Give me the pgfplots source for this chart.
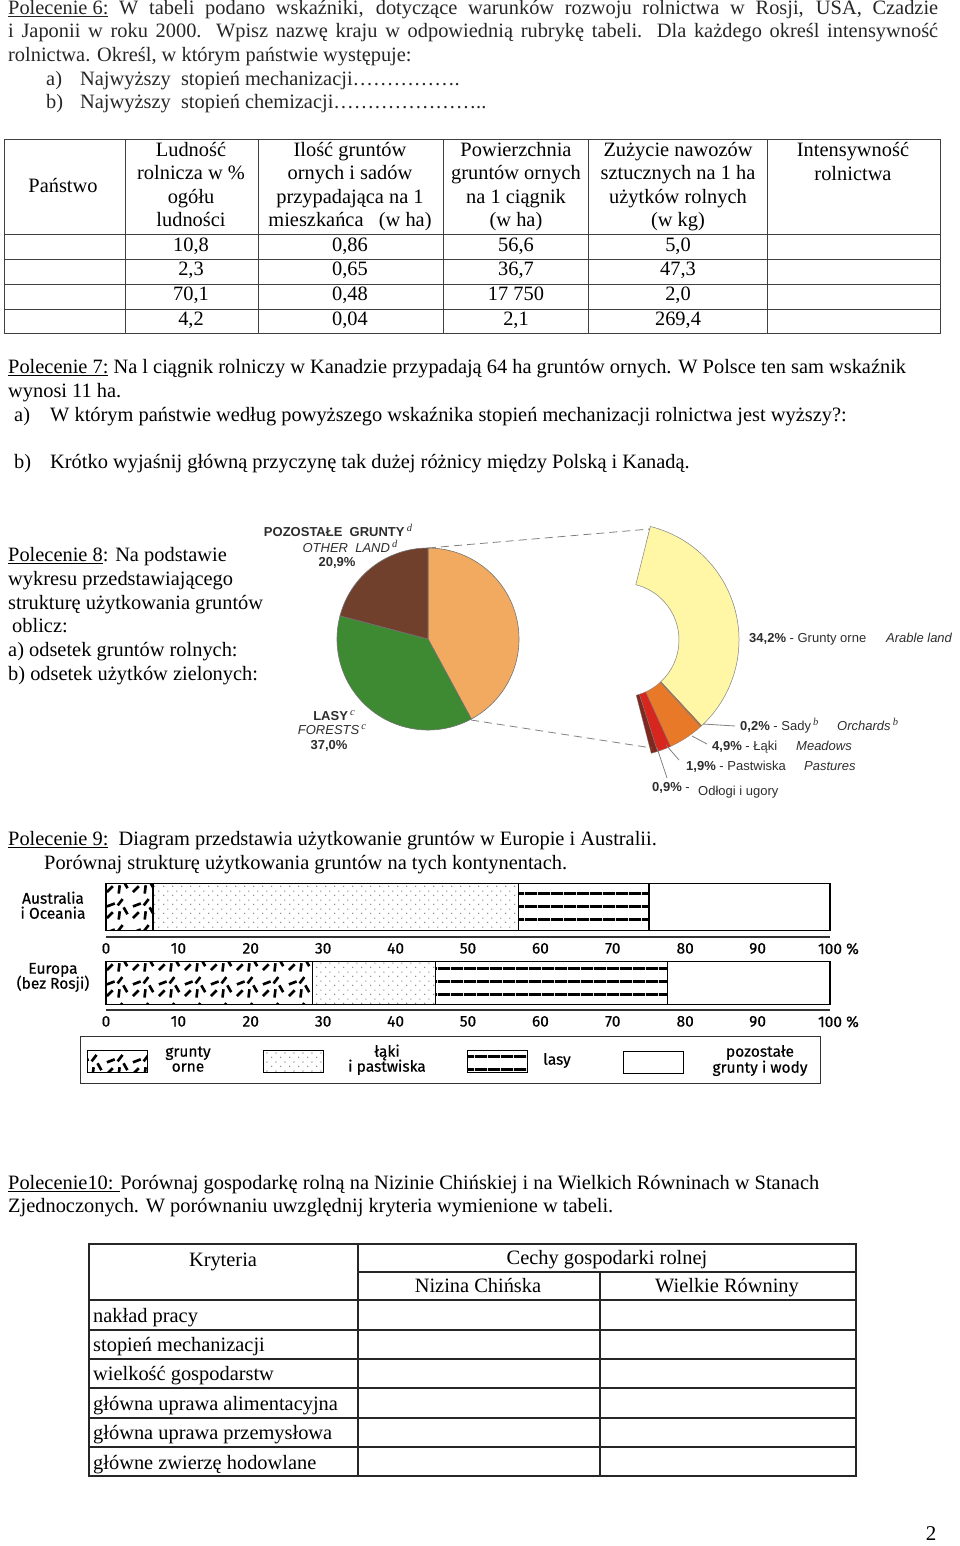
\documentclass[border=0pt]{standalone}
\usepackage{fontspec}
\setmainfont{Liberation Serif}
\newfontfamily\arial{Liberation Sans}
\newfontfamily\fira{Fira Sans}[FakeBold=0.4]
\usepackage{pgfplots}
\pgfplotsset{compat=1.18}
\usetikzlibrary{patterns}

% random short dashes (grunty orne)
\pgfdeclarepatternformonly{dashes}{\pgfqpoint{0pt}{0pt}}{\pgfqpoint{26pt}{26pt}}{\pgfqpoint{26pt}{26pt}}{%
  \pgfsetlinewidth{2.7pt}
  \pgfpathmoveto{\pgfqpoint{3pt}{4pt}}\pgfpathlineto{\pgfqpoint{9pt}{10pt}}
  \pgfpathmoveto{\pgfqpoint{15pt}{2.5pt}}\pgfpathlineto{\pgfqpoint{16pt}{11pt}}
  \pgfpathmoveto{\pgfqpoint{20pt}{15pt}}\pgfpathlineto{\pgfqpoint{24pt}{8pt}}
  \pgfpathmoveto{\pgfqpoint{3pt}{16pt}}\pgfpathlineto{\pgfqpoint{11pt}{19pt}}
  \pgfpathmoveto{\pgfqpoint{14pt}{17pt}}\pgfpathlineto{\pgfqpoint{19pt}{23.5pt}}
  \pgfusepath{stroke}}
% sparse dots (laki i pastwiska)
\pgfdeclarepatternformonly{sdots}{\pgfqpoint{0pt}{0pt}}{\pgfqpoint{9pt}{9pt}}{\pgfqpoint{9pt}{9pt}}{%
  \pgfpathcircle{\pgfqpoint{2pt}{3pt}}{0.7pt}
  \pgfpathcircle{\pgfqpoint{6.5pt}{7.5pt}}{0.7pt}
  \pgfusepath{fill}}
% thick horizontal lines (lasy)
\pgfdeclarepatternformonly{hlines}{\pgfqpoint{0pt}{0pt}}{\pgfqpoint{12.5pt}{12.5pt}}{\pgfqpoint{12.5pt}{12.5pt}}{%
  \pgfpathrectangle{\pgfqpoint{0pt}{0.1pt}}{\pgfqpoint{12.5pt}{2.8pt}}
  \pgfusepath{fill}}

\definecolor{pOrange}{RGB}{242,170,96}
\definecolor{pGreen}{RGB}{62,138,50}
\definecolor{pBrown}{RGB}{112,64,45}
\definecolor{rYellow}{RGB}{255,246,166}
\definecolor{rOrch}{RGB}{200,100,30}
\definecolor{rMead}{RGB}{232,121,40}
\definecolor{rPast}{RGB}{215,38,30}
\definecolor{rFall}{RGB}{128,40,30}
\definecolor{lbl}{RGB}{45,45,45}

\newcommand\T[3]{\node[anchor=mid west,inner sep=0] at (#1,#2) {#3};}
\newcommand\C[3]{\node[anchor=mid,inner sep=0] at (#1,#2) {#3};}
\newcommand\supi[1]{\raisebox{0.7ex}{\rmfamily\itshape\fontsize{10.5}{10}\selectfont #1}}

\begin{document}
\begin{tikzpicture}[x=1pt,y=-1pt]
\path[use as bounding box] (0,0) rectangle (960,1546);
\fontsize{20.4}{24}\selectfont

% ---- Polecenie 6
\begin{scope}[black!85]
\T{8}{10}{\makebox[930pt][s]{\underline{Polecenie 6:} W tabeli podano wskaźniki, dotyczące warunków rozwoju rolnictwa w Rosji, USA, Czadzie}}
\T{8}{33}{\makebox[930pt][s]{i Japonii w roku 2000. Wpisz nazwę kraju w odpowiednią rubrykę tabeli. Dla każdego określ intensywność}}
\T{8}{57}{rolnictwa. Określ, w którym państwie występuje:}
\T{46}{81}{a)}\T{80}{81}{Najwyższy\ \ stopień mechanizacji…………….}
\T{46}{104}{b)}\T{80}{104}{Najwyższy\ \ stopień chemizacji…………………..}
\end{scope}

% ---- table 1
\begin{scope}[line width=1pt, black!75]
\draw (4,140) rectangle (940,333);
\foreach \y in {235,259,284,309} \draw (4,\y) -- (940,\y);
\foreach \x in {125,258,443,588,767} \draw (\x,140) -- (\x,333);
\end{scope}
\C{63}{188}{Państwo}
\C{191}{152}{Ludność}\C{191}{175}{rolnicza w \%}\C{191}{199}{ogółu}\C{191}{222}{ludności}
\C{350}{152}{Ilość gruntów}\C{350}{175}{ornych i sadów}\C{350}{199}{przypadająca na 1}\C{350}{222}{mieszkańca\ \ \ (w ha)}
\C{516}{152}{Powierzchnia}\C{516}{175}{gruntów ornych}\C{516}{199}{na 1 ciągnik}\C{516}{222}{(w ha)}
\C{678}{152}{Zużycie nawozów}\C{678}{175}{sztucznych na 1 ha}\C{678}{199}{użytków rolnych}\C{678}{222}{(w kg)}
\C{853}{152}{Intensywność}\C{853}{176}{rolnictwa}
\C{191}{247}{10,8}\C{350}{247}{0,86}\C{516}{247}{56,6}\C{678}{247}{5,0}
\C{191}{271}{2,3}\C{350}{271}{0,65}\C{516}{271}{36,7}\C{678}{271}{47,3}
\C{191}{296}{70,1}\C{350}{296}{0,48}\C{516}{296}{17 750}\C{678}{296}{2,0}
\C{191}{321}{4,2}\C{350}{321}{0,04}\C{516}{321}{2,1}\C{678}{321}{269,4}

% ---- Polecenie 7
\T{8}{369}{\underline{Polecenie 7:} Na l ciągnik rolniczy w Kanadzie przypadają 64 ha gruntów ornych. W Polsce ten sam wskaźnik}
\T{8}{393}{wynosi 11 ha.}
\T{14}{417}{a)}\T{50}{417}{W którym państwie według powyższego wskaźnika stopień mechanizacji rolnictwa jest wyższy?:}
\T{14}{464}{b)}\T{50}{464}{Krótko wyjaśnij główną przyczynę tak dużej różnicy między Polską i Kanadą.}

% ---- Polecenie 8
\T{8}{557}{\underline{Polecenie 8}: Na podstawie}
\T{8}{581}{wykresu przedstawiającego}
\T{8}{605}{strukturę użytkowania gruntów}
\T{12}{628}{oblicz:}
\T{8}{652}{a) odsetek gruntów rolnych:}
\T{8}{676}{b) odsetek użytków zielonych:}

% ---- pie chart with exploded ring
\begin{axis}[at={(260pt,-805pt)}, anchor=south west, scale only axis,
  width=700pt, height=290pt, xmin=0, xmax=700, ymin=0, ymax=290,
  hide axis, clip=false]
\coordinate (P) at (axis cs:168,166);
\coordinate (R) at (axis cs:362,165);
% pie: rolne 42.1, lasy 37.0, pozostale 20.9 (clockwise from 90 deg)
\filldraw[fill=pOrange, draw=black!55, line width=0.6pt] (P) -- ([shift={(90:91pt)}]P)
  arc[start angle=90, delta angle={-3.6*42.1}, radius=91pt] -- cycle;
\filldraw[fill=pGreen, draw=black!55, line width=0.6pt] (P) -- ([shift={({90-3.6*42.1}:91pt)}]P)
  arc[start angle={90-3.6*42.1}, delta angle={-3.6*37.0}, radius=91pt] -- cycle;
\filldraw[fill=pBrown, draw=black!55, line width=0.6pt] (P) -- ([shift={({90-3.6*79.1}:91pt)}]P)
  arc[start angle={90-3.6*79.1}, delta angle={-3.6*20.9}, radius=91pt] -- cycle;
% ring: 34.2, 0.2, 4.9, 1.9, 0.9 (clockwise from 76 deg)
\filldraw[fill=rYellow, draw=black!50, line width=0.5pt] ([shift={(76:117pt)}]R)
  arc[start angle=76, delta angle={-3.6*34.2}, radius=117pt]
  -- ([shift={({76-3.6*34.2}:57pt)}]R) arc[start angle={76-3.6*34.2}, delta angle={3.6*34.2}, radius=57pt] -- cycle;
\filldraw[fill=rOrch, draw=black!50, line width=0.3pt] ([shift={({76-3.6*34.2}:117pt)}]R)
  arc[start angle={76-3.6*34.2}, delta angle={-3.6*0.2}, radius=117pt]
  -- ([shift={({76-3.6*34.4}:57pt)}]R) arc[start angle={76-3.6*34.4}, delta angle={3.6*0.2}, radius=57pt] -- cycle;
\filldraw[fill=rMead, draw=black!50, line width=0.3pt] ([shift={({76-3.6*34.4}:117pt)}]R)
  arc[start angle={76-3.6*34.4}, delta angle={-3.6*4.9}, radius=117pt]
  -- ([shift={({76-3.6*39.3}:57pt)}]R) arc[start angle={76-3.6*39.3}, delta angle={3.6*4.9}, radius=57pt] -- cycle;
\filldraw[fill=rPast, draw=black!50, line width=0.3pt] ([shift={({76-3.6*39.3}:117pt)}]R)
  arc[start angle={76-3.6*39.3}, delta angle={-3.6*1.9}, radius=117pt]
  -- ([shift={({76-3.6*41.2}:57pt)}]R) arc[start angle={76-3.6*41.2}, delta angle={3.6*1.9}, radius=57pt] -- cycle;
\filldraw[fill=rFall, draw=black!50, line width=0.3pt] ([shift={({76-3.6*41.2}:117pt)}]R)
  arc[start angle={76-3.6*41.2}, delta angle={-3.6*0.9}, radius=117pt]
  -- ([shift={({76-3.6*42.1}:57pt)}]R) arc[start angle={76-3.6*42.1}, delta angle={3.6*0.9}, radius=57pt] -- cycle;
\draw[gray, line width=0.8pt, dash pattern=on 8pt off 5pt] (axis cs:168,257) -- (axis cs:390,276);
\draw[gray, line width=0.8pt, dash pattern=on 8pt off 5pt] (axis cs:211,85) -- (axis cs:392,57);
\end{axis}
% leader lines
\begin{scope}[gray, line width=0.8pt]
\draw (703,724) -- (735,726);
\draw (692,736) -- (707,744);
\draw (666,745) -- (679,760);
\draw (657,748) -- (667,778);
\end{scope}
\begin{scope}[lbl, font=\arial\fontsize{13}{14}\selectfont]
\C{338}{532}{\textbf{POZOSTAŁE\ \ GRUNTY}\,\supi{d}}
\C{350}{548}{\textit{OTHER\ \ LAND}\,\supi{d}}
\C{337}{562}{\textbf{20,9\%}}
\C{334}{716}{\textbf{LASY}\,\supi{c}}
\C{332}{730}{\textit{FORESTS}\,\supi{c}}
\C{329}{745}{\textbf{37,0\%}}
\T{749}{638}{\textbf{34,2\%} - Grunty orne}\T{886}{638}{\textit{Arable land}}
\T{740}{726}{\textbf{0,2\%} - Sady\,\supi{b}}\T{837}{726}{\textit{Orchards}\,\supi{b}}
\T{712}{746}{\textbf{4,9\%} - Łąki}\T{796}{746}{\textit{Meadows}}
\T{686}{766}{\textbf{1,9\%} - Pastwiska}\T{804}{766}{\textit{Pastures}}
\T{652}{787}{\textbf{0,9\%} -}\T{698}{791}{Odłogi i ugory}
\end{scope}

% ---- Polecenie 9
\T{8}{841}{\underline{Polecenie 9:}\ \ Diagram przedstawia użytkowanie gruntów w Europie i Australii.}
\T{44}{865}{Porównaj strukturę użytkowania gruntów na tych kontynentach.}

\pgfplotsset{landbar/.style={scale only axis, width=724pt, height=53pt,
  xmin=0, xmax=100, ymin=0, ymax=53, xbar stacked,
  axis y line=none, axis x line*=bottom, x axis line style={-, line width=1.2pt, black!80},
  xtick={0,10,...,100}, xticklabels={0,10,20,30,40,50,60,70,80,90,100\rlap{ \%}},
  xtick style={draw=none}, ytick=\empty,
  xticklabel style={font=\fira\fontsize{15.5}{15}\selectfont, yshift=1pt},
  clip=false}}
% Australia i Oceania: grunty orne, laki i pastwiska, lasy, pozostale
\begin{axis}[landbar, bar width=46.5pt, at={(106pt,-937pt)}, anchor=south west]
\addplot[draw=black, line width=1.2pt, fill=white, postaction={pattern=dashes}] coordinates {(6.5,30)};
\addplot[draw=black, line width=1.2pt, fill=white, postaction={pattern=sdots, pattern color=black!60}] coordinates {(50.5,30)};
\addplot[draw=black, line width=1.2pt, fill=white, postaction={pattern=hlines}] coordinates {(18.0,30)};
\addplot[draw=black, line width=1.2pt, fill=white] coordinates {(25.0,30)};
\end{axis}
% Europa (bez Rosji)
\begin{axis}[landbar, bar width=43pt, at={(106pt,-1010pt)}, anchor=south west]
\addplot[draw=black, line width=1.2pt, fill=white, postaction={pattern=dashes}] coordinates {(28.5,27)};
\addplot[draw=black, line width=1.2pt, fill=white, postaction={pattern=sdots, pattern color=black!60}] coordinates {(17.0,27)};
\addplot[draw=black, line width=1.2pt, fill=white, postaction={pattern=hlines}] coordinates {(32.0,27)};
\addplot[draw=black, line width=1.2pt, fill=white] coordinates {(22.5,27)};
\end{axis}
\begin{scope}[font=\fira\fontsize{15.5}{16}\selectfont]
\C{53}{899}{Australia}\C{53}{914}{i Oceania}
\C{53}{969}{Europa}\C{53}{984}{(bez Rosji)}
\draw[line width=1pt, black!80] (80,1036) rectangle (820,1083);
\draw[line width=1pt, fill=white, postaction={pattern=dashes}] (87,1050) rectangle (147,1072);
\C{188}{1052}{grunty}\C{188}{1067}{orne}
\draw[line width=1pt, fill=white, postaction={pattern=sdots, pattern color=black!60}] (263,1050) rectangle (323,1072);
\C{387}{1052}{łąki}\C{387}{1067}{i pastwiska}
\draw[line width=1pt, fill=white, postaction={pattern=hlines}] (467,1050) rectangle (527,1072);
\C{557}{1060}{lasy}
\draw[line width=1pt, fill=white] (623,1051) rectangle (683,1073);
\C{760}{1052}{pozostałe}\C{760}{1068}{grunty i wody}
\end{scope}

% ---- Polecenie 10
\T{8}{1185}{\underline{Polecenie10: }Porównaj gospodarkę rolną na Nizinie Chińskiej i na Wielkich Równinach w Stanach}
\T{8}{1208}{Zjednoczonych. W porównaniu uwzględnij kryteria wymienione w tabeli.}
\begin{scope}[line width=1.3pt, black!85]
\draw (89,1244) rectangle (856,1476);
\draw (358,1244) -- (358,1476);
\draw (600,1272) -- (600,1476);
\draw (358,1272) -- (856,1272);
\foreach \y in {1300,1330,1359,1388,1418,1447} \draw (89,\y) -- (856,\y);
\end{scope}
\C{223}{1262}{Kryteria}
\C{607}{1260}{Cechy gospodarki rolnej}
\C{478}{1288}{Nizina Chińska}\C{727}{1288}{Wielkie Równiny}
\T{93}{1318}{nakład pracy}
\T{93}{1347}{stopień mechanizacji}
\T{93}{1376}{wielkość gospodarstw}
\T{93}{1406}{główna uprawa alimentacyjna}
\T{93}{1435}{główna uprawa przemysłowa}
\T{93}{1465}{główne zwierzę hodowlane}

\node[anchor=mid,inner sep=0,font=\fontsize{21}{21}\selectfont] at (931,1536) {2};
\end{tikzpicture}
\end{document}
